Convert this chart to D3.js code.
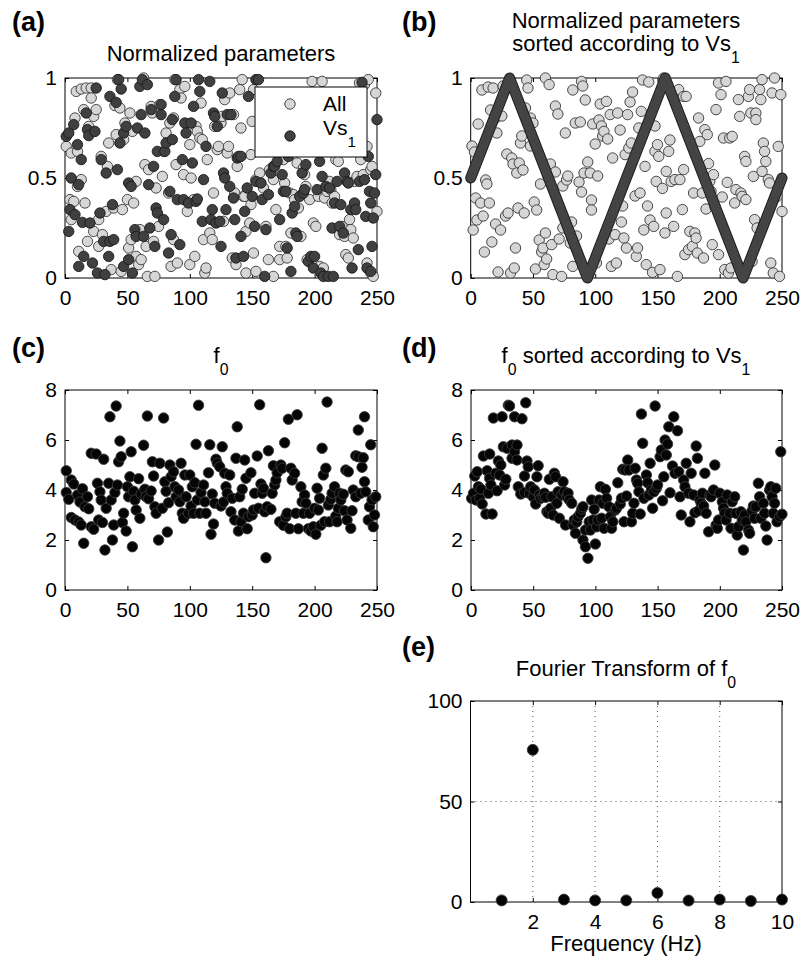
<!DOCTYPE html>
<html>
  <head>
    <meta charset="utf-8">
    <title>Normalized parameters and f0</title>
    <script src="https://d3js.org/d3.v7.min.js"></script>
    <style>
      body { margin: 0; background: #fff; }
    </style>
  </head>
  <body>

  <script type="text/javascript">
  /* tick values */
  var idxTicks = [0, 50, 100, 150, 200, 250];
  var normTicks = [0, 0.5, 1];
  var f0Ticks = [0, 2, 4, 6, 8];
  var freqTicks = [2, 4, 6, 8, 10];
  var ampTicks = [0, 50, 100];

  /* (a) normalized parameters, [index, value] */
  var aAll = [[1,.658],[4,.392],[5,.625],[5,.292],[7,.383],[8,.8],[9,.933],[10,.633],[10,.458],[11,.133],[13,.492],[13,.945],[15,.842],[16,.375],[17,.95],[18,.183],[19,.758],[21,.95],[21,.9],[23,.808],[23,.233],[25,.842],[27,.158],[27,.292],[29,.608],[30,.217],[33,.333],[34,.558],[35,.675],[37,.042],[39,.35],[40,.862],[41,.717],[42,.992],[44,.85],[45,.033],[46,.342],[47,.692],[48,.775],[50,.392],[51,.15],[52,.825],[53,.192],[54,.733],[55,.375],[57,.483],[57,.108],[59,.067],[60,.242],[61,.092],[63,1],[64,.567],[65,.158],[66,.008],[67,.542],[69,.858],[70,.825],[71,.183],[72,.008],[73,.45],[75,.258],[76,.867],[78,.508],[79,.633],[81,.725],[83,.425],[84,.775],[85,.058],[87,.192],[87,.8],[88,.992],[89,.567],[90,.075],[92,.942],[93,.9],[95,.517],[96,.958],[98,.333],[100,.067],[100,.667],[101,.5],[103,.392],[104,.108],[105,.758],[106,.733],[108,.7],[109,.875],[110,.692],[111,.192],[112,.025],[113,.05],[114,.592],[116,.225],[118,.192],[119,.425],[120,.758],[122,.642],[123,.658],[125,.775],[126,.808],[127,.283],[128,.892],[130,.625],[131,.658],[132,.925],[134,.1],[135,.817],[136,.425],[137,.067],[138,.558],[140,.942],[141,.75],[142,.992],[143,.408],[144,.408],[145,.233],[145,.025],[148,.275],[149,.367],[149,.617],[150,.783],[151,.125],[151,.942],[153,.033],[153,.492],[156,.525],[159,.45],[161,.258],[163,.092],[164,.542],[167,.008],[167,.492],[169,.342],[172,.158],[172,.092],[175,.592],[176,.475],[177,.158],[178,.1],[180,.425],[181,.225],[183,.417],[184,.392],[186,.575],[187,.35],[189,.208],[191,.55],[192,.517],[193,.458],[194,.092],[196,.392],[198,.983],[199,.275],[201,.258],[203,.408],[204,.058],[206,.983],[207,.05],[208,.4],[210,.433],[212,.483],[213,.442],[214,.375],[216,.408],[217,.592],[219,.583],[220,.217],[222,.258],[224,.208],[225,.117],[227,.1],[228,.292],[229,.242],[231,.2],[232,.483],[234,.508],[236,.975],[237,.592],[239,.517],[240,.967],[242,.075],[242,.658],[243,.992],[245,.542],[245,.025],[246,.558],[247,.008],[249,.925],[250,.333]];
  var aVs1 = [[1,.708],[3,.725],[3,.233],[4,.342],[5,.5],[7,.767],[8,.317],[10,.667],[11,.467],[11,.058],[13,.592],[14,.278],[15,.108],[17,.825],[18,.742],[19,.712],[20,.275],[22,.075],[24,.733],[25,.95],[26,.025],[28,.325],[29,.592],[31,.183],[32,.017],[33,.525],[35,.108],[36,.908],[36,.183],[38,.367],[39,.192],[41,.878],[42,.542],[43,.992],[44,.675],[45,.945],[47,.725],[47,.058],[49,.758],[51,.475],[51,.092],[53,.458],[54,.025],[56,.242],[57,.208],[58,.75],[60,.958],[61,.817],[62,.992],[63,.208],[64,.725],[66,.967],[67,.467],[68,.25],[69,.842],[71,.558],[72,.158],[73,.35],[74,.633],[74,.325],[77,.817],[77,.867],[79,.292],[80,.633],[81,.675],[83,.125],[84,.433],[85,.217],[86,.792],[86,.692],[88,.908],[89,.992],[90,.392],[92,.167],[94,.592],[95,.392],[96,.775],[97,.725],[99,.375],[101,.775],[102,.575],[103,.858],[105,.383],[106,.395],[107,.992],[108,.933],[110,.283],[111,.492],[113,.658],[116,.983],[117,.292],[118,.342],[119,.825],[120,.808],[121,.275],[122,.758],[124,.283],[125,.158],[126,.925],[127,.525],[128,.5],[129,.342],[130,.817],[132,.458],[133,.817],[135,.4],[136,.292],[137,.1],[138,.6],[139,.608],[141,.608],[141,.208],[143,.108],[144,.333],[146,.45],[147,.908],[150,.408],[152,.258],[153,.483],[153,.992],[155,.992],[157,.475],[158,.392],[160,.008],[161,.242],[163,.417],[165,.525],[167,.558],[168,.558],[170,.583],[172,.292],[174,.517],[175,.433],[177,.433],[178,.15],[179,.608],[181,.033],[182,.325],[184,.358],[185,.225],[186,.208],[188,.408],[190,.525],[191,.425],[192,.442],[193,.567],[195,.083],[197,.108],[199,.05],[200,.108],[202,.442],[204,.583],[205,.025],[206,.508],[207,.008],[209,.458],[211,.008],[212,.45],[214,.25],[215,.008],[216,.375],[218,.483],[220,.258],[221,.367],[223,.225],[224,.525],[226,.483],[227,.475],[229,.342],[230,.05],[232,.375],[233,.342],[235,.142],[236,.483],[238,.978],[240,.492],[241,.308],[242,.05],[243,.608],[244,.433],[245,.375],[245,.033],[246,.158],[247,.3],[248,.425],[249,.517],[250,.792]];

  /* (b) sorted by Vs1 */
  var bAll = [[1,.66],[2,.24],[3,.63],[4,.4],[5,.29],[6,.77],[8,.375],[9,.94],[10,.31],[11,.13],[12,.49],[13,.47],[14,.955],[15,.375],[16,.84],[17,.18],[18,.95],[20,.8],[20,.27],[21,.725],[22,.03],[24,.24],[25,.81],[26,.96],[28,.31],[29,.62],[30,.325],[32,.025],[33,.6],[34,.57],[35,.05],[36,.15],[37,.525],[38,.35],[39,.575],[40,.675],[41,.71],[42,.54],[43,.325],[44,.85],[45,.99],[46,.95],[48,.8],[48,.66],[50,.775],[51,.38],[52,.045],[53,.34],[55,.19],[56,.47],[57,.13],[58,.15],[59,.067],[60,1],[60,.225],[61,.095],[63,.967],[64,.57],[65,.167],[66,.017],[68,.53],[68,.86],[70,.82],[71,.195],[73,.008],[74,.46],[74,.25],[76,.725],[77,.49],[78,.51],[80,.175],[81,.28],[82,.058],[82,.94],[84,.775],[85,.21],[87,.48],[88,.78],[89,.983],[89,.43],[90,.96],[91,.525],[92,.89],[94,.58],[96,.525],[97,.39],[97,.34],[98,.77],[100,.67],[101,.075],[102,.51],[103,.79],[104,.87],[105,.76],[106,.71],[107,.733],[109,.883],[110,.695],[111,.195],[112,.817],[113,.058],[114,.6],[116,.217],[117,.075],[118,.825],[120,.74],[121,.28],[122,.36],[123,.2],[124,.617],[125,.15],[126,.817],[127,.65],[128,.88],[129,.675],[130,.93],[132,.41],[133,.108],[134,.15],[135,.75],[136,.425],[137,.833],[138,.99],[139,.24],[140,.558],[141,.067],[142,.36],[143,.98],[144,.29],[146,.028],[147,.258],[148,.633],[148,.76],[149,.483],[150,.667],[151,.608],[152,.042],[154,.448],[155,1],[156,.225],[157,.325],[157,.533],[159,.633],[160,.69],[161,.483],[163,.258],[164,.492],[166,.008],[167,.942],[168,.492],[170,.342],[171,.542],[171,.908],[172,.117],[173,.908],[175,.142],[176,.233],[178,.158],[179,.425],[180,.225],[181,.2],[182,.125],[183,.8],[184,.683],[186,.425],[187,.1],[188,.742],[189,.345],[190,.717],[191,.572],[192,.483],[193,.433],[194,.167],[195,.517],[196,.358],[197,.842],[199,.975],[199,.117],[201,.917],[202,.405],[203,.7],[204,.042],[205,.983],[206,.478],[207,.025],[208,.7],[209,.05],[210,.708],[212,.375],[213,.442],[215,.892],[216,.808],[217,.425],[218,.408],[220,.608],[221,.583],[221,.392],[223,.908],[224,.942],[225,.825],[226,.083],[227,.508],[228,.292],[229,.825],[229,.792],[230,.25],[232,.942],[233,.892],[234,.992],[234,.533],[235,.675],[236,.633],[237,.583],[239,.492],[240,.475],[241,.075],[242,.925],[243,.025],[244,1],[246,.408],[247,.658],[248,.008],[249,.917],[250,.333]];
  var bVs1 = [[0,0.5],[31.25,1],[93.75,0],[156.25,1],[218.75,0],[250,0.5]];

  /* (c) f0 */
  var cF0 = [[1,4.77],[1,3.9],[3,3.63],[5,2.9],[5,4.4],[7,4.24],[8,2.8],[10,3.8],[11,2.72],[12,3.52],[13,2.6],[14,4.05],[15,1.87],[16,3.33],[18,3.73],[19,3.25],[21,5.47],[21,2.53],[23,2.43],[25,5.44],[26,4.27],[27,2.8],[28,3.93],[29,3.6],[30,2.7],[31,5.23],[32,1.6],[33,3.27],[35,4.27],[36,6.93],[37,3.6],[38,2.0],[39,2.6],[40,3.9],[41,7.36],[42,4.2],[43,5.13],[44,5.96],[45,5.33],[46,2.7],[47,3.07],[49,2.36],[50,4.13],[51,3.73],[52,4.53],[53,5.53],[54,1.73],[55,3.95],[56,3.6],[57,3.2],[59,4.45],[60,2.87],[61,3.84],[63,5.79],[64,4.03],[65,3.73],[66,6.96],[67,3.65],[69,3.96],[70,5.13],[71,4.56],[72,3.33],[73,3.07],[75,2.0],[76,5.07],[78,3.27],[79,6.88],[80,4.33],[81,3.95],[82,2.32],[83,3.49],[84,5.0],[85,4.53],[87,4.73],[88,4.13],[89,3.73],[91,4.0],[92,3.53],[93,5.07],[94,3.07],[95,2.87],[96,4.6],[97,3.73],[99,3.07],[100,4.6],[101,3.36],[102,4.13],[103,3.07],[104,4.29],[105,5.83],[106,3.6],[107,7.39],[108,3.07],[109,3.9],[111,4.2],[112,3.53],[113,3.07],[115,4.69],[116,5.81],[117,2.23],[118,3.84],[119,2.64],[120,3.47],[121,5.23],[122,5.07],[124,4.93],[125,3.36],[126,5.73],[127,3.52],[128,4.67],[129,4.13],[130,3.87],[132,4.6],[133,3.13],[134,3.67],[136,2.8],[137,5.27],[138,6.53],[139,2.36],[140,3.73],[141,2.73],[142,4.03],[143,3.07],[144,5.2],[145,4.47],[146,2.45],[147,2.93],[149,4.69],[150,3.0],[151,3.2],[152,3.87],[154,5.36],[155,3.27],[156,7.41],[157,4.24],[158,3.87],[159,4.07],[160,3.13],[161,1.29],[162,3.33],[163,5.57],[165,3.23],[166,3.87],[167,4.97],[168,4.2],[169,4.4],[170,4.69],[172,2.73],[173,5.0],[174,4.87],[175,2.59],[176,5.89],[177,2.93],[178,3.07],[179,6.83],[180,2.45],[181,4.87],[182,4.4],[184,4.67],[185,3.07],[186,7.01],[187,2.45],[189,4.13],[190,3.53],[191,3.07],[192,3.8],[193,3.47],[195,2.45],[196,3.07],[197,2.36],[199,2.53],[200,3.27],[201,2.23],[202,4.07],[203,3.2],[204,3.67],[205,2.59],[206,5.67],[207,4.6],[208,2.73],[209,4.87],[210,7.52],[211,3.4],[212,2.73],[213,3.63],[214,3.87],[216,4.13],[217,2.96],[218,2.73],[219,3.27],[220,3.87],[221,3.6],[223,3.83],[224,3.17],[225,4.8],[226,2.8],[227,4.73],[229,2.47],[230,3.17],[231,4.0],[233,3.73],[233,5.37],[235,5.33],[235,6.4],[237,3.87],[238,4.91],[239,5.29],[240,4.33],[240,6.93],[241,3.93],[243,2.8],[244,3.33],[245,5.81],[246,3.6],[247,2.53],[248,3.0],[249,3.73]];

  /* (d) f0 sorted by Vs1 */
  var dF0 = [[0.5,3.67],[2,3.87],[3,4.56],[4,3.6],[5,4.73],[6,4.13],[7,3.67],[8,4.03],[9,3.44],[10,5.36],[12,3.04],[13,4.77],[14,3.87],[15,5.44],[15,4.47],[16,4.2],[17,3.04],[18,6.88],[20,4.67],[21,3.97],[22,5.16],[23,4.6],[24,5.0],[25,6.93],[26,5.73],[27,4.2],[28,4.43],[29,5.67],[30,7.39],[31,7.36],[33,5.8],[33,5.27],[35,5.53],[35,6.93],[37,5.8],[37,5.2],[38,4.13],[40,3.84],[41,6.85],[43,4.56],[43,3.9],[44,7.49],[45,5.16],[46,4.93],[47,3.87],[48,4.13],[50,3.73],[51,4.0],[52,3.44],[53,4.53],[54,4.97],[55,3.8],[56,3.67],[58,3.73],[59,3.87],[60,3.71],[61,3.13],[62,3.07],[63,4.43],[64,3.27],[65,3.73],[66,3.0],[67,4.67],[68,4.53],[69,3.47],[70,3.93],[71,2.87],[73,3.8],[74,4.33],[75,3.93],[76,2.6],[77,3.73],[78,3.87],[79,3.6],[81,3.47],[82,2.6],[83,2.8],[84,2.27],[85,2.72],[86,2.93],[88,3.07],[89,3.24],[90,3.33],[90,2.0],[92,2.4],[92,1.73],[94,1.27],[95,2.73],[96,2.4],[97,3.6],[98,2.8],[99,3.23],[100,1.84],[101,2.53],[102,2.8],[103,3.6],[104,4.13],[105,2.87],[106,3.47],[107,2.47],[108,4.03],[109,3.67],[111,3.33],[112,2.93],[113,2.47],[114,2.73],[116,3.2],[117,3.27],[118,4.29],[120,3.44],[121,3.67],[122,4.83],[123,2.73],[124,4.8],[125,3.76],[126,5.2],[127,4.8],[129,2.73],[130,3.07],[131,3.47],[132,4.87],[133,4.4],[134,4.27],[135,3.93],[136,3.04],[137,7.04],[138,5.87],[139,3.67],[141,4.6],[142,4.29],[143,3.8],[144,5.07],[145,4.0],[146,3.27],[147,3.93],[148,7.36],[149,4.07],[150,4.2],[152,5.33],[153,5.6],[154,3.57],[155,4.53],[156,6.0],[157,5.4],[158,5.84],[159,6.53],[160,3.89],[162,4.96],[163,6.93],[164,4.67],[166,6.37],[167,4.73],[168,3.73],[169,3.0],[171,4.4],[172,4.13],[173,5.07],[175,3.87],[176,2.73],[177,4.67],[179,3.8],[180,3.09],[181,5.76],[182,5.27],[183,3.17],[184,3.6],[185,3.47],[186,3.87],[187,3.36],[188,4.67],[189,3.07],[191,2.33],[192,3.8],[193,3.73],[195,4.0],[196,5.0],[197,2.6],[198,2.47],[199,2.8],[200,3.87],[202,3.53],[203,3.27],[204,3.07],[205,2.8],[206,3.8],[208,3.07],[209,2.47],[210,3.53],[212,3.73],[213,3.07],[214,2.2],[215,2.53],[217,3.13],[218,2.8],[219,1.6],[220,3.0],[221,2.73],[223,2.4],[224,2.27],[226,3.17],[227,3.36],[228,2.87],[229,3.33],[231,4.27],[232,3.73],[233,2.87],[235,3.47],[236,3.07],[237,2.56],[238,2.0],[240,4.0],[241,4.13],[242,3.73],[243,3.07],[244,3.47],[245,4.07],[246,2.73],[248,2.93],[249,5.53],[250,3.03]];

  /* (e) Fourier transform of f0 */
  var eFreq = [1, 2, 3, 4, 5, 6, 7, 8, 9, 10];
  var eAmp = [0.8, 75.7, 1.2, 0.8, 0.8, 4.5, 0.7, 1.2, 0.5, 1.2];

  var font = 'Liberation Sans, Arial, Helvetica, sans-serif';
  var lightFill = '#d6d6d6', darkFill = '#404040';

  var svg = d3.select('body')
              .append('svg')
              .attr('width', 802)
              .attr('height', 960)
              .attr('font-family', font);

  function fmt(d) { return String(d); }

  /* one matlab style axes box, ticks inside on all four sides */
  function panel(box, xDom, yDom, xT, yT) {
    var x = d3.scaleLinear().domain(xDom).range([box.l, box.r]);
    var y = d3.scaleLinear().domain(yDom).range([box.b, box.t]);
    var g = svg.append('g');
    function clean(a) {
      a.select('.domain').remove();
      a.attr('font-size', 21).attr('font-family', font);
      a.selectAll('text').attr('fill', '#000');
    }
    g.append('g').attr('transform', 'translate(0,' + box.b + ')')
      .call(d3.axisBottom(x).tickValues(xT).tickSize(-4).tickPadding(12).tickFormat(fmt)).call(clean);
    g.append('g').attr('transform', 'translate(0,' + box.t + ')')
      .call(d3.axisTop(x).tickValues(xT).tickSize(-4).tickFormat('')).call(clean);
    g.append('g').attr('transform', 'translate(' + box.l + ',0)')
      .call(d3.axisLeft(y).tickValues(yT).tickSize(-4).tickPadding(8).tickFormat(fmt)).call(clean);
    g.append('g').attr('transform', 'translate(' + box.r + ',0)')
      .call(d3.axisRight(y).tickValues(yT).tickSize(-4).tickFormat('')).call(clean);
    g.append('rect')
      .attr('x', box.l).attr('y', box.t)
      .attr('width', box.r - box.l).attr('height', box.b - box.t)
      .attr('fill', 'none').attr('stroke', '#000').attr('stroke-width', 1);
    return { g: g, x: x, y: y };
  }

  function dots(p, data, fill, edge, r) {
    p.g.append('g').selectAll('circle')
      .data(data)
      .enter()
      .append('circle')
      .attr('cx', function(d){ return p.x(d[0]); })
      .attr('cy', function(d){ return p.y(d[1]); })
      .attr('r', r)
      .attr('fill', fill)
      .attr('stroke', edge)
      .attr('stroke-width', 0.9);
  }

  /* text with subscripts: parts = [[text, isSub], ...] */
  function label(x, y, parts, size, anchor) {
    var t = svg.append('text')
      .attr('x', x).attr('y', y)
      .attr('font-size', size)
      .attr('text-anchor', anchor || 'middle');
    var down = false;
    parts.forEach(function(p) {
      var s = t.append('tspan').text(p[0]);
      if (p[1] && !down) { s.attr('dy', 12).attr('font-size', size * 0.72); down = true; }
      else if (p[1]) { s.attr('font-size', size * 0.72); }
      else if (down) { s.attr('dy', -12); down = false; }
    });
    return t;
  }

  function tag(x, y, s) {
    svg.append('text').attr('x', x).attr('y', y)
      .attr('font-size', 27).attr('font-weight', 'bold').text(s);
  }

  /* (a) */
  var pa = panel({l: 65, r: 377, t: 78, b: 278}, [0, 250], [0, 1], idxTicks, normTicks);
  dots(pa, aAll, lightFill, '#383838', 5.2);
  dots(pa, aVs1, darkFill, '#1a1a1a', 5.2);
  // legend
  var lg = svg.append('g');
  lg.append('rect').attr('x', 255).attr('y', 87).attr('width', 112).attr('height', 70)
    .attr('fill', '#fff').attr('stroke', '#000');
  lg.append('circle').attr('cx', 290).attr('cy', 104).attr('r', 5.2)
    .attr('fill', lightFill).attr('stroke', '#383838').attr('stroke-width', 0.9);
  lg.append('circle').attr('cx', 290).attr('cy', 136).attr('r', 5.2)
    .attr('fill', darkFill).attr('stroke', '#1a1a1a').attr('stroke-width', 0.9);
  label(323, 111, [['All']], 21, 'start');
  label(323, 135, [['Vs'], ['1', true]], 21, 'start');
  tag(12, 31, '(a)');
  label(221, 61, [['Normalized parameters']], 22);

  /* (b) */
  var pb = panel({l: 470.7, r: 782, t: 78, b: 278}, [0, 250], [0, 1], idxTicks, normTicks);
  dots(pb, bAll, lightFill, '#383838', 5.2);
  var tri = d3.line().x(function(d){ return pb.x(d[0]); }).y(function(d){ return pb.y(d[1]); });
  pb.g.append('path').datum(bVs1).attr('d', tri)
    .attr('fill', 'none').attr('stroke', '#1e1e1e').attr('stroke-width', 11)
    .attr('stroke-linejoin', 'round').attr('stroke-linecap', 'round');
  pb.g.append('path').datum(bVs1).attr('d', tri)
    .attr('fill', 'none').attr('stroke', '#444').attr('stroke-width', 9)
    .attr('stroke-linejoin', 'round').attr('stroke-linecap', 'round');
  tag(402, 31, '(b)');
  label(626, 28, [['Normalized parameters']], 22);
  label(626, 51, [['sorted according to Vs'], ['1', true]], 22);

  /* (c) */
  var pc = panel({l: 65, r: 377, t: 390, b: 590}, [0, 250], [0, 8], idxTicks, f0Ticks);
  dots(pc, cF0, '#050505', '#3a3a3a', 5.2);
  tag(12, 357, '(c)');
  label(221, 363, [['f'], ['0', true]], 22);

  /* (d) */
  var pd = panel({l: 471, r: 782, t: 390, b: 590}, [0, 250], [0, 8], idxTicks, f0Ticks);
  dots(pd, dF0, '#050505', '#3a3a3a', 5.2);
  tag(402, 357, '(d)');
  label(626, 363, [['f'], ['0', true], [' sorted according to Vs'], ['1', true]], 22);

  /* (e) */
  var pe = panel({l: 470.5, r: 782, t: 701, b: 902}, [0, 10], [0, 100], freqTicks, ampTicks);
  var grid = pe.g.append('g').attr('stroke', '#555').attr('stroke-dasharray', '1,4');
  grid.selectAll('line.gx').data(freqTicks.slice(0, 4)).enter().append('line')
    .attr('x1', function(d){ return pe.x(d); }).attr('x2', function(d){ return pe.x(d); })
    .attr('y1', pe.y(0)).attr('y2', pe.y(100));
  grid.append('line').datum(50)
    .attr('x1', pe.x(0)).attr('x2', pe.x(10))
    .attr('y1', function(d){ return pe.y(d); }).attr('y2', function(d){ return pe.y(d); });
  dots(pe, eFreq.map(function(f, i){ return [f, eAmp[i]]; }), '#050505', '#3a3a3a', 5.5);
  tag(402, 656, '(e)');
  label(626, 676, [['Fourier Transform of f'], ['0', true]], 22);
  label(626, 951, [['Frequency (Hz)']], 22);
  </script>
  </body>
</html>
